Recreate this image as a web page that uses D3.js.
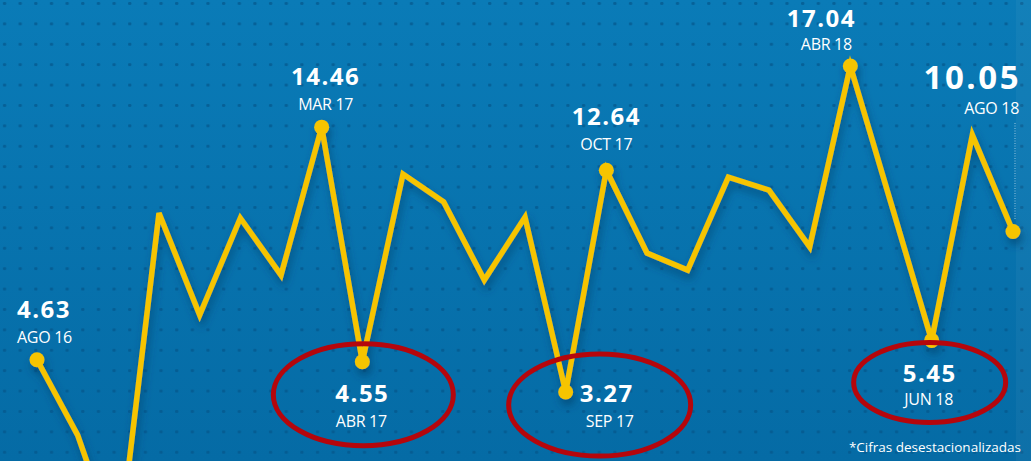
<!DOCTYPE html>
<html>
<head>
<meta charset="utf-8">
<script src="https://cdn.jsdelivr.net/npm/d3@7"></script>
<style>
  html, body { margin: 0; padding: 0; background: #0a76b1; }
  svg { display: block; }
  text { font-family: 'Open Sans', 'Noto Sans', sans-serif; fill: #fff; }
</style>
</head>
<body>
<div class="chart-wrapper"></div>
<script>
// tasa anual, cifras desestacionalizadas
const months = ['AGO 16','SEP 16','OCT 16','NOV 16','DIC 16','ENE 17','FEB 17','MAR 17','ABR 17','MAY 17','JUN 17','JUL 17','AGO 17',
  'SEP 17','OCT 17','NOV 17','DIC 17','ENE 18','FEB 18','MAR 18','ABR 18','MAY 18','JUN 18','JUL 18','AGO 18']
const values = [4.63, 1.45, -3.5, 10.83, 6.52, 10.62, 8.21, 14.46, 4.55, 12.48, 11.3, 8.0, 10.66,
  3.27, 12.64, 9.14, 8.42, 12.35, 11.8, 9.4, 17.04, 11.25, 5.45, 14.13, 10.05]
const labelled = ['AGO 16','MAR 17','ABR 17','SEP 17','OCT 17','ABR 18','JUN 18','AGO 18']
const circled = ['ABR 17','SEP 17','JUN 18']
const footnote = '*Cifras desestacionalizadas'

const width = 1031
const height = 461

// label placement relative to each point
const layout = {
  'AGO 16': {anchor: 'start', nx: -20, ny: -42, mx: -20, my: -17, size: 24},
  'MAR 17': {anchor: 'middle', nx: 4, ny: -42, mx: 4, my: -17, size: 24},
  'OCT 17': {anchor: 'middle', nx: 0, ny: -45, mx: 0, my: -20, size: 24},
  'ABR 18': {anchor: 'middle', nx: -29, ny: -39, mx: -24, my: -16, size: 24},
  'AGO 18': {anchor: 'end', nx: 8, ny: -143, mx: 6, my: -118, size: 33},
  'ABR 17': {anchor: 'middle', nx: 0, ny: 40, mx: -1, my: 65, size: 24},
  'SEP 17': {anchor: 'middle', nx: 41, ny: 10, mx: 44, my: 35, size: 24},
  'JUN 18': {anchor: 'middle', nx: -2, ny: 42, mx: -3, my: 65, size: 24}
}
const rings = {
  'ABR 17': {dx: 1, dy: 33, rx: 90, ry: 51},
  'SEP 17': {dx: 34, dy: 13, rx: 91, ry: 51},
  'JUN 18': {dx: -2, dy: 42, rx: 76, ry: 40}
}

const data = months.map((m, i) => ({month: m, value: values[i]}))

const x = d3.scalePoint()
  .domain(months)
  .range([37, 1013])

const y = d3.scaleLinear()
  .domain([0, 20])
  .range([469.4, -4])

const svg = d3.select('.chart-wrapper')
  .append('svg')
  .attr('width', width)
  .attr('height', height)

const defs = svg.append('defs')

const bg = defs.append('linearGradient')
  .attr('id', 'bg')
  .attr('x1', 0).attr('y1', 0).attr('x2', 0).attr('y2', 1)
bg.append('stop').attr('offset', '0%').attr('stop-color', '#0a7bb7')
bg.append('stop').attr('offset', '100%').attr('stop-color', '#056ba5')

const dots = defs.append('pattern')
  .attr('id', 'dots')
  .attr('patternUnits', 'userSpaceOnUse')
  .attr('x', 18.5).attr('y', 2)
  .attr('width', 15.65).attr('height', 20.4)
dots.append('rect')
  .attr('width', 3.4).attr('height', 3)
  .attr('rx', 1.2)
  .attr('fill', '#04558a')
  .attr('opacity', 0.7)

const shadow = defs.append('filter')
  .attr('id', 'shadow')
  .attr('x', '-10%').attr('y', '-10%')
  .attr('width', '120%').attr('height', '130%')
shadow.append('feDropShadow')
  .attr('dx', 2).attr('dy', 6)
  .attr('stdDeviation', 4)
  .attr('flood-color', '#023c66')
  .attr('flood-opacity', 0.6)

svg.append('rect')
  .attr('width', width).attr('height', height)
  .attr('fill', 'url(#bg)')
svg.append('rect')
  .attr('width', width).attr('height', height)
  .attr('fill', 'url(#dots)')
svg.append('rect')
  .attr('x', 1016).attr('y', 0)
  .attr('width', width - 1016).attr('height', height)
  .attr('fill', '#ffffff')
  .attr('opacity', 0.04)

const last = data[data.length - 1]

// dotted guide from the last label down to the point
svg.append('line')
  .attr('x1', x(last.month) + 2).attr('x2', x(last.month) + 2)
  .attr('y1', 123).attr('y2', y(last.value) - 12)
  .attr('stroke', '#ffffff')
  .attr('stroke-width', 1)
  .attr('stroke-dasharray', '1 1.5')
  .attr('opacity', 0.6)

const line = d3.line()
  .x(d => x(d.month))
  .y(d => y(d.value))

const plot = svg.append('g').attr('filter', 'url(#shadow)')

plot.append('path')
  .datum(data)
  .attr('d', line)
  .attr('fill', 'none')
  .attr('stroke', '#f6c400')
  .attr('stroke-width', 5.5)
  .attr('stroke-linejoin', 'miter')
  .attr('stroke-miterlimit', 4)

const marked = data.filter(d => labelled.includes(d.month))

plot.selectAll('circle')
  .data(marked)
  .join('circle')
  .attr('cx', d => x(d.month))
  .attr('cy', d => y(d.value))
  .attr('r', 7.5)
  .attr('fill', '#f6c400')

const labels = svg.append('g')

labels.selectAll('text.num')
  .data(marked)
  .join('text')
  .attr('class', 'num')
  .attr('x', d => x(d.month) + layout[d.month].nx)
  .attr('y', d => y(d.value) + layout[d.month].ny)
  .attr('text-anchor', d => layout[d.month].anchor)
  .attr('font-size', d => layout[d.month].size)
  .attr('font-weight', 700)
  .attr('letter-spacing', d => layout[d.month].size > 30 ? 2.5 : 1.5)
  .text(d => d3.format('.2f')(d.value))

labels.selectAll('text.mes')
  .data(marked)
  .join('text')
  .attr('class', 'mes')
  .attr('x', d => x(d.month) + layout[d.month].mx)
  .attr('y', d => y(d.value) + layout[d.month].my)
  .attr('text-anchor', d => layout[d.month].anchor)
  .attr('font-size', 16)
  .attr('font-weight', 500)
  .attr('letter-spacing', -0.3)
  .text(d => d.month)

svg.append('g')
  .selectAll('ellipse')
  .data(data.filter(d => circled.includes(d.month)))
  .join('ellipse')
  .attr('cx', d => x(d.month) + rings[d.month].dx)
  .attr('cy', d => y(d.value) + rings[d.month].dy)
  .attr('rx', d => rings[d.month].rx)
  .attr('ry', d => rings[d.month].ry)
  .attr('fill', 'none')
  .attr('stroke', '#b5060c')
  .attr('stroke-width', 5)

svg.append('text')
  .attr('x', 1021)
  .attr('y', 452)
  .attr('text-anchor', 'end')
  .attr('font-size', 13.5)
  .attr('fill', '#e4eef5')
  .text(footnote)
</script>
</body>
</html>
